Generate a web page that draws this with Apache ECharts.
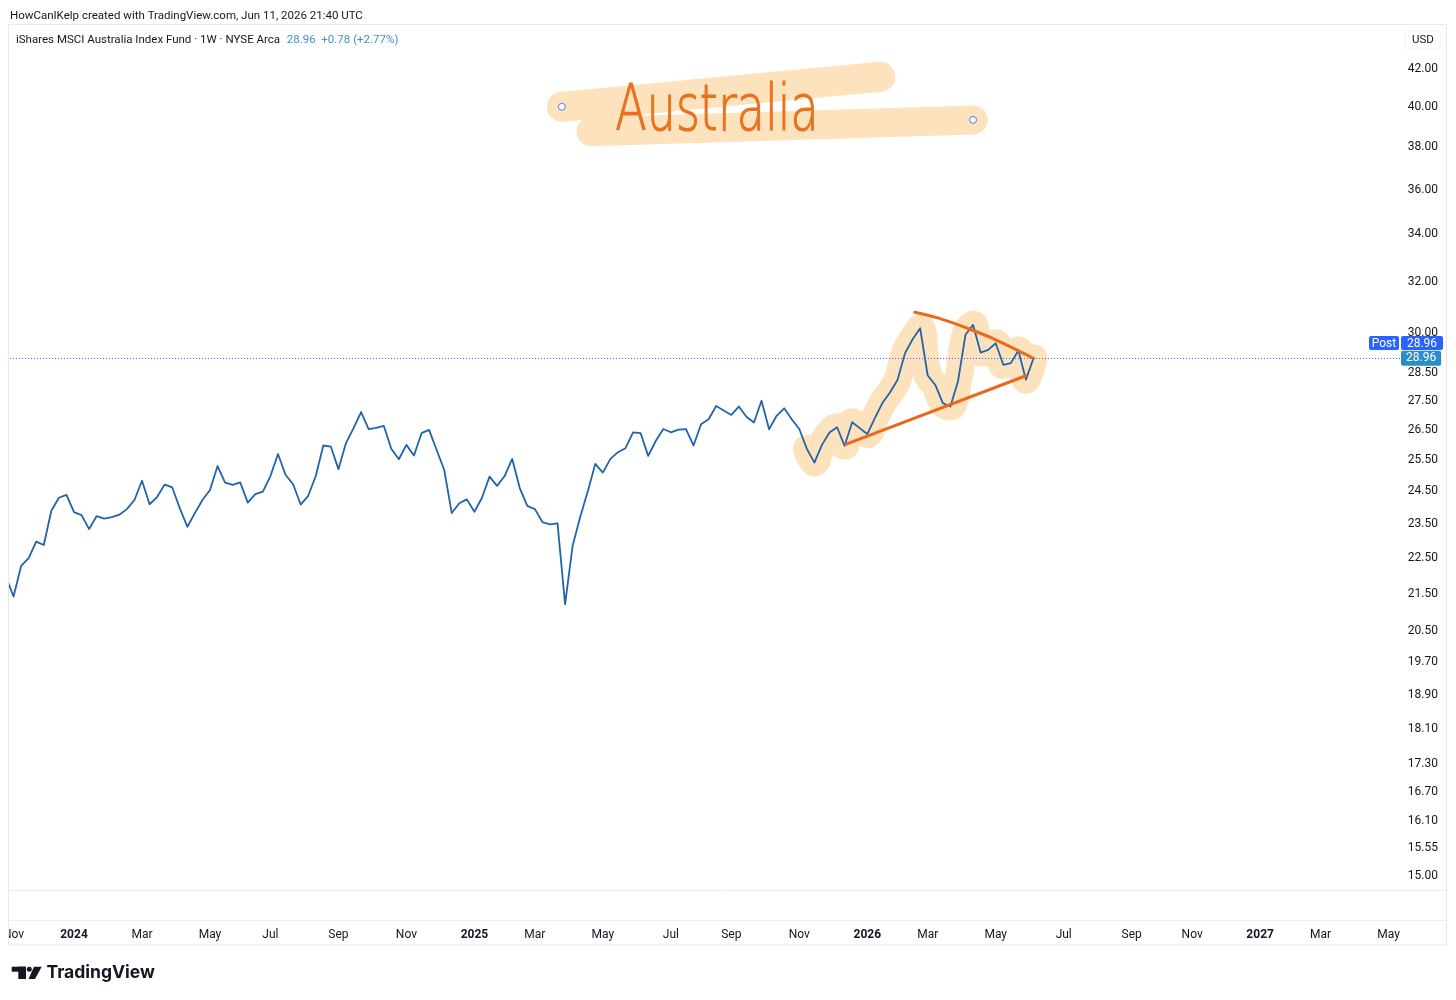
<!DOCTYPE html>
<html><head><meta charset="utf-8">
<script src="https://cdn.jsdelivr.net/npm/echarts@6/dist/echarts.min.js"></script>
<style>html,body{margin:0;padding:0;background:#fff}#c{width:1456px;height:1000px}</style>
</head><body><div id="c"></div>
<script>
// ---- data ----
const firstWeek = '2023-10-30';           // weekly bars (Monday dates)
const closes = [
  21.91,21.37,22.22,22.44,22.92,22.82,23.84,24.24,24.33,
  23.80,23.71,23.29,23.68,23.60,23.65,23.72,23.89,24.17,24.77,
  24.04,24.26,24.65,24.56,23.92,23.36,23.77,24.17,24.48,25.24,
  24.71,24.64,24.72,24.09,24.35,24.43,24.92,25.63,24.96,24.66,
  24.03,24.30,24.92,25.91,25.87,25.14,25.99,26.49,27.04,26.46,
  26.50,26.57,25.80,25.46,25.93,25.58,26.32,26.43,25.76,25.12,
  23.77,24.07,24.19,23.81,24.24,24.90,24.61,24.92,25.47,24.54,
  23.99,23.89,23.50,23.43,23.46,21.16,22.80,23.65,24.43,25.31,
  25.03,25.47,25.69,25.82,26.35,26.32,25.57,26.06,26.46,26.35,
  26.44,26.46,25.91,26.62,26.79,27.25,27.09,26.94,27.23,26.88,
  26.68,27.43,26.45,26.91,27.17,26.79,26.46,25.80,25.35,25.93,
  26.34,26.52,25.90,26.69,26.49,26.29,26.83,27.35,27.72,28.17,
  29.15,29.67,30.09,28.33,27.99,27.35,27.23,28.11,29.84,30.22,
  29.17,29.27,29.52,28.72,28.78,29.25,28.18,28.96
];
const lastPrice = 28.96;
const priceChange = '+0.78 (+2.77%)';
const yTicks = [42,40,38,36,34,32,30,28.5,27.5,26.5,25.5,24.5,23.5,22.5,21.5,20.5,19.7,18.9,18.1,17.3,16.7,16.1,15.55,15];
const xTickDates = ['2023-11-06','2024-01-01','2024-03-04','2024-05-06','2024-07-01','2024-09-02','2024-11-04',
  '2025-01-06','2025-03-03','2025-05-05','2025-07-07','2025-09-01','2025-11-03',
  '2026-01-05','2026-03-02','2026-05-04','2026-07-06','2026-09-07','2026-11-02',
  '2027-01-04','2027-03-01','2027-05-03'];
const monthNames = ['Jan','Feb','Mar','Apr','May','Jun','Jul','Aug','Sep','Oct','Nov','Dec'];
const viewStart = '2023-11-02T18:00:00Z';
const viewEnd = '2027-05-13T14:00:00Z';
const priceLow = 14.697, priceHigh = 44.30;
// drawings
const highlightFrom = '2025-11-10';
const upperTrend = [['2026-02-18',30.71],['2026-03-12',30.48],['2026-04-09',30.07],['2026-05-04',29.65],['2026-06-08',28.96]];
const lowerTrend = [['2025-12-16',25.95],['2026-06-01',28.32]];
const titleBand1 = [['2025-03-28',39.91],['2026-01-17',41.47]];
const titleBand2 = [['2025-04-24',38.66],['2026-04-13',39.25]];
const titleHandles = [['2025-03-28',39.91],['2026-04-13',39.25]];

// ---- build ----
const ts = s => Date.parse(s.length === 10 ? s + 'T00:00:00Z' : s);
const DAY = 86400000;
const t0 = ts(firstWeek);
const priceData = closes.map((v, i) => [t0 + i * 7 * DAY, v]);
const hlData = priceData.filter(p => p[0] >= ts(highlightFrom));
const toPts = arr => arr.map(p => [ts(p[0]), p[1]]);

const TXT = '#131722';
const FONT = 'Roboto, "Liberation Sans", sans-serif';
const PEACH = '#fde2be';
const ORANGE = '#e9691d';

const chart = echarts.init(document.getElementById('c'), null, {renderer: 'canvas'});
chart.setOption({
  animation: false,
  backgroundColor: '#ffffff',
  grid: {left: 9, top: 25, right: 56, bottom: 110, containLabel: false},
  xAxis: {
    type: 'value', min: ts(viewStart), max: ts(viewEnd), scale: true,
    axisLine: {show: false}, axisTick: {show: false}, splitLine: {show: false},
    axisLabel: {
      customValues: xTickDates.map(ts),
      margin: 39, color: TXT, fontSize: 12, fontFamily: FONT,
      formatter: function (v) {
        const d = new Date(v);
        const m = d.getUTCMonth();
        if (m === 0) return '{y|' + d.getUTCFullYear() + '}';
        return monthNames[m];
      },
      rich: {y: {fontWeight: 'bold', fontSize: 12, color: TXT, fontFamily: FONT}}
    }
  },
  yAxis: {
    type: 'log', position: 'right', min: priceLow, max: priceHigh,
    axisLine: {show: false}, axisTick: {show: false}, splitLine: {show: false},
    axisLabel: {
      customValues: yTicks, align: 'right', margin: 38,
      color: TXT, fontSize: 12, fontFamily: FONT,
      formatter: v => '{p|' + Number(v).toFixed(2) + '}',
      rich: {p: {padding: [4, 0, 0, 0], color: TXT, fontSize: 12, fontFamily: FONT}}
    }
  },
  series: [
    {type: 'line', name: 'hl', data: hlData, showSymbol: false, smooth: 0.4, silent: true, z: 1,
     lineStyle: {width: 28, color: PEACH, cap: 'round', join: 'round'}},
    {type: 'line', name: 'band1', data: toPts(titleBand1), showSymbol: false, silent: true, z: 1,
     lineStyle: {width: 30, color: PEACH, cap: 'round', join: 'round'}},
    {type: 'line', name: 'band2', data: toPts(titleBand2), showSymbol: false, silent: true, z: 1,
     lineStyle: {width: 29, color: PEACH, cap: 'round', join: 'round'}},
    {type: 'line', name: 'EWA', data: priceData, showSymbol: false, z: 3,
     lineStyle: {width: 1.8, color: '#2264aa', join: 'round'},
     markLine: {
       silent: true, symbol: ['none', 'none'],
       lineStyle: {type: [1, 2], color: '#2962ff', width: 1},
       label: {position: 'end', distance: 1, formatter: lastPrice.toFixed(2),
         backgroundColor: '#2b8dc8', color: '#fff', padding: [2, 5, 1, 5], borderRadius: 2,
         fontSize: 12, fontFamily: FONT},
       data: [{yAxis: lastPrice}]
     }},
    {type: 'line', name: 'up', data: toPts(upperTrend), showSymbol: false, smooth: 0.4, silent: true, z: 4,
     lineStyle: {width: 3, color: ORANGE, cap: 'round'}},
    {type: 'line', name: 'low', data: toPts(lowerTrend), showSymbol: false, silent: true, z: 4,
     lineStyle: {width: 3, color: ORANGE, cap: 'round'}},
    {type: 'scatter', name: 'handles', data: toPts(titleHandles), symbol: 'circle', symbolSize: 7, silent: true, z: 6,
     itemStyle: {color: '#ffffff', borderColor: '#2962ff', borderWidth: 1}}
  ],
  graphic: [
    {type: 'text', x: 10, y: 16.5, z: 20, style: {text: 'HowCanIKelp created with TradingView.com, Jun 11, 2026 21:40 UTC',
      fill: TXT, fontSize: 11.5, fontFamily: FONT, verticalAlign: 'middle'}},
    {type: 'text', x: 16, y: 40.5, z: 20, style: {
      text: '{a|iShares MSCI Australia Index Fund · 1W · NYSE Arca}  {b|' + lastPrice.toFixed(2) + '  ' + priceChange + '}',
      verticalAlign: 'middle',
      rich: {a: {fill: TXT, fontSize: 11.5, fontFamily: FONT}, b: {fill: '#3d94c8', fontSize: 11.5, fontFamily: FONT}}}},
    // frame
    {type: 'rect', z: 0, silent: true, shape: {x: 8.5, y: 24.5, width: 1438, height: 920.5},
     style: {fill: 'none', stroke: '#e6e8ee', lineWidth: 1}},
    {type: 'line', z: 0, silent: true, shape: {x1: 8.5, y1: 890.5, x2: 1446.5, y2: 890.5}, style: {stroke: '#eceef2', lineWidth: 1}},
    {type: 'line', z: 0, silent: true, shape: {x1: 8.5, y1: 920.5, x2: 1446.5, y2: 920.5}, style: {stroke: '#eceef2', lineWidth: 1}},
    // left clip of axis labels
    {type: 'rect', z: 50, silent: true, shape: {x: 0, y: 922, width: 8, height: 22}, style: {fill: '#fff'}},
    {type: 'line', z: 51, silent: true, shape: {x1: 8.5, y1: 920.5, x2: 8.5, y2: 945}, style: {stroke: '#e6e8ee', lineWidth: 1}},
    // USD box
    {type: 'rect', z: 20, shape: {x: 1405, y: 31, width: 36, height: 18, r: 4}, style: {fill: '#fff', stroke: '#f0f2f6', lineWidth: 1}},
    {type: 'text', z: 21, x: 1423, y: 40.5, style: {text: 'USD', fill: TXT, fontSize: 11.5, fontFamily: FONT, align: 'center', verticalAlign: 'middle'}},
    // Post labels
    {type: 'rect', z: 30, shape: {x: 1369, y: 336, width: 30, height: 14, r: 2}, style: {fill: '#2962ff'}},
    {type: 'text', z: 31, x: 1384, y: 343.5, style: {text: 'Post', fill: '#fff', fontSize: 12, fontFamily: FONT, align: 'center', verticalAlign: 'middle'}},
    {type: 'rect', z: 30, shape: {x: 1401, y: 336, width: 42, height: 14, r: 2}, style: {fill: '#2962ff'}},
    {type: 'text', z: 31, x: 1422, y: 343.5, style: {text: lastPrice.toFixed(2), fill: '#fff', fontSize: 12, fontFamily: FONT, align: 'center', verticalAlign: 'middle'}},
    // handwritten title
    {type: 'text', z: 10, x: 717, y: 113, scaleY: 1.4, silent: true, style: {text: 'Australia', fill: '#e8711c', stroke: '#e8711c', lineWidth: 0.8,
      fontSize: 46, fontWeight: 200, fontFamily: '"DejaVu Sans"', align: 'center', verticalAlign: 'middle'}},
    // TradingView logo
    {type: 'group', z: 20, children: [
      {type: 'rect', shape: {x: 11.7, y: 966.7, width: 14.3, height: 5}, style: {fill: TXT}},
      {type: 'rect', shape: {x: 18.3, y: 966.7, width: 7.7, height: 12.3}, style: {fill: TXT}},
      {type: 'circle', shape: {cx: 29.3, cy: 969.2, r: 2.5}, style: {fill: TXT}},
      {type: 'polygon', shape: {points: [[34, 966.7], [41.7, 966.7], [35, 979], [28.5, 979]]}, style: {fill: TXT}},
      {type: 'text', x: 46.5, y: 973, style: {text: 'TradingView', fill: TXT, fontSize: 17.5, fontWeight: 'bold', fontFamily: 'Inter, "Noto Sans", sans-serif', verticalAlign: 'middle'}}
    ]}
  ]
});
</script>
</body></html>
